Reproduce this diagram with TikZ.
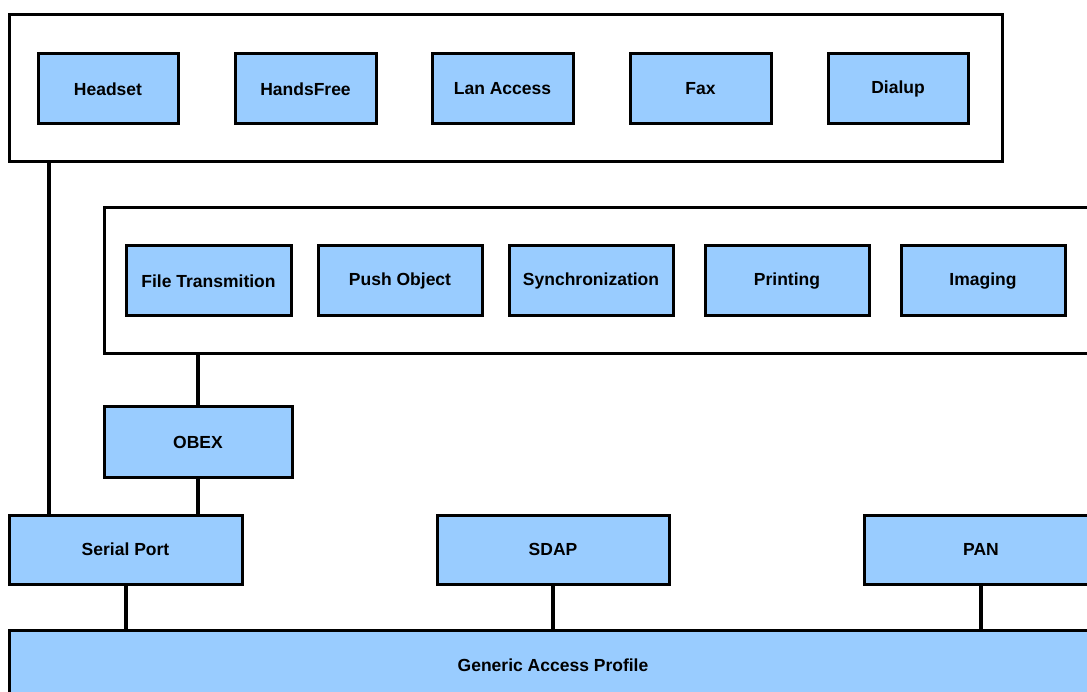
\documentclass[tikz,border=0pt]{standalone}
\usepackage{fontspec}
\setmainfont{Liberation Sans}
\definecolor{boxblue}{HTML}{99CCFF}
\begin{document}
\begin{tikzpicture}[x=1pt,y=-1pt,
  frame/.style={draw=black,line width=3pt,fill=white,rectangle,inner sep=0pt},
  pbox/.style={draw=black,line width=3pt,fill=boxblue,rectangle,inner sep=0pt,font=\bfseries\fontsize{17.5}{20}\selectfont},
  link/.style={line width=4pt,draw=black}]
\useasboundingbox (0,0) rectangle (1087,692);
\clip (0,0) rectangle (1087,692);
\fill[white] (0,0) rectangle (1087,692);
% containers
\node[frame,minimum width=993pt,minimum height=147pt] (top) at (505.5,88.5) {};
\node[frame,minimum width=1000pt,minimum height=146pt] (mid) at (604,281) {};
% row 1
\node[pbox,minimum width=140pt,minimum height=70pt] (headset) at (108,89) {Headset};
\node[pbox,minimum width=141pt,minimum height=70pt] (handsfree) at (305.5,89) {HandsFree};
\node[pbox,minimum width=141pt,minimum height=70pt] (lan) at (502.5,89) {Lan Access};
\node[pbox,minimum width=141pt,minimum height=70pt] (fax) at (700.5,89) {Fax};
\node[pbox,minimum width=140pt,minimum height=70pt] (dialup) at (898,89) {Dialup};
% row 2
\node[pbox,minimum width=165pt,minimum height=70pt] (file) at (208.5,281) {File Transmition};
\node[pbox,minimum width=164pt,minimum height=70pt] (push) at (400,281) {Push Object};
\node[pbox,minimum width=164pt,minimum height=70pt] (sync) at (591,281) {Synchronization};
\node[pbox,minimum width=164pt,minimum height=70pt] (print) at (787,281) {Printing};
\node[pbox,minimum width=164pt,minimum height=70pt] (imaging) at (983,281) {Imaging};
% lower
\node[pbox,minimum width=188pt,minimum height=70pt] (obex) at (198,442) {OBEX};
\node[pbox,minimum width=233pt,minimum height=69pt] (serial) at (125.5,549.5) {Serial Port};
\node[pbox,minimum width=232pt,minimum height=69pt] (sdap) at (553,549.5) {SDAP};
\node[pbox,minimum width=234pt,minimum height=69pt] (pan) at (981,549.5) {PAN};
\node[pbox,minimum width=1100pt,minimum height=80pt] (gap) at (559,670) {};
\node[font=\bfseries\fontsize{17.5}{20}\selectfont] (gaptext) at (553,665) {Generic Access Profile};
% connectors
\coordinate (c1) at (49,162);
\draw[link] (c1) -- (c1 |- serial.north);
\draw[link] (obex.north) -- (obex.north |- mid.south);
\draw[link] (obex.south) -- (obex.south |- serial.north);
\draw[link] (serial.south) -- (serial.south |- gap.north);
\draw[link] (sdap.south) -- (sdap.south |- gap.north);
\draw[link] (pan.south) -- (pan.south |- gap.north);
\end{tikzpicture}
\end{document}
